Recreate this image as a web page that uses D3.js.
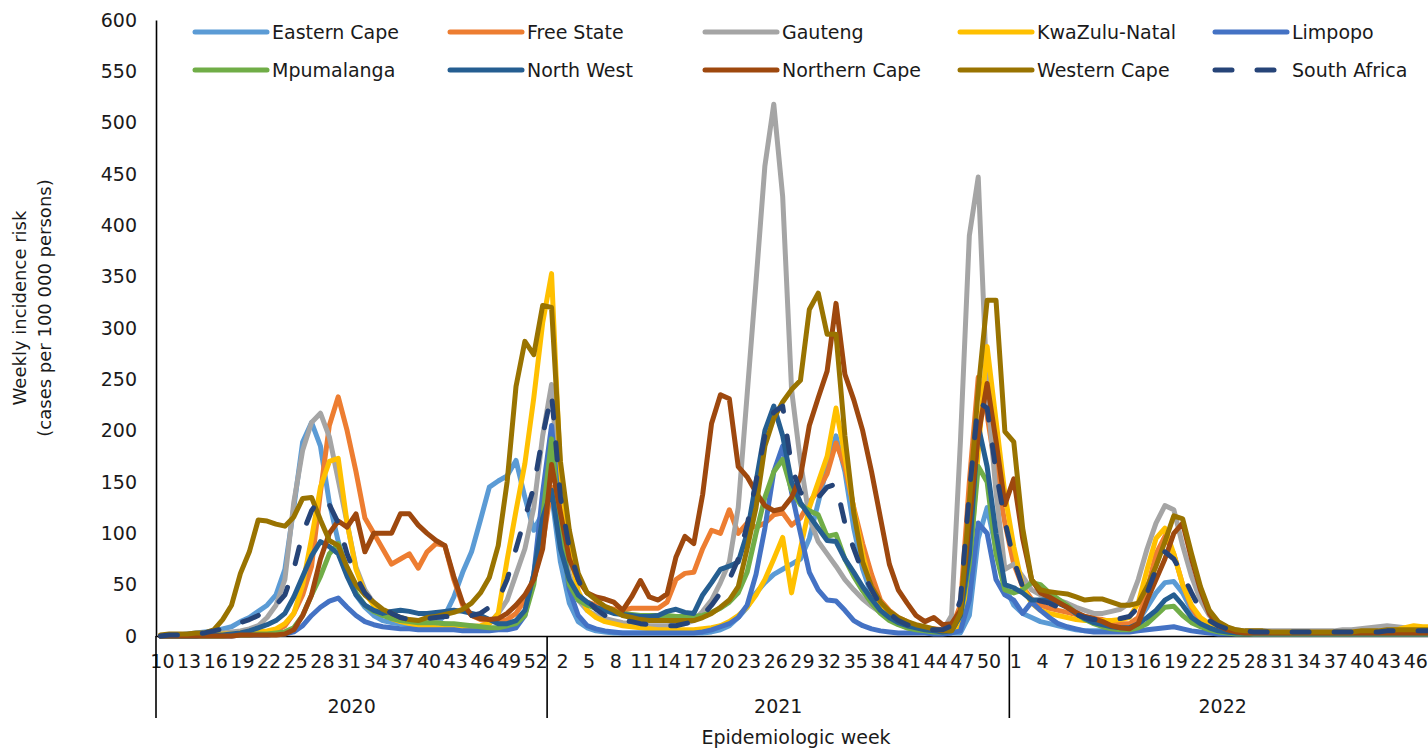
<!DOCTYPE html>
<html>
<head>
<meta charset="utf-8">
<script src="https://cdn.jsdelivr.net/npm/d3@7"></script>
<style>
  body { margin: 0; background: #fff; }
  svg { display: block; }
  text { font-family: "DejaVu Sans", sans-serif; fill: #1a1a1a; }
</style>
</head>
<body>
<svg id="chart" width="1428" height="748"></svg>
<script>
// year, first week, last week
const yearSpans = [[2020, 10, 53], [2021, 1, 52], [2022, 1, 48]];
const yTicks = [0, 50, 100, 150, 200, 250, 300, 350, 400, 450, 500, 550, 600];

const provinces = ["Eastern Cape", "Free State", "Gauteng", "KwaZulu-Natal", "Limpopo",
  "Mpumalanga", "North West", "Northern Cape", "Western Cape", "South Africa"];
const colors = ["#5b9bd5", "#ed7d31", "#a5a5a5", "#ffc000", "#4472c4",
  "#70ad47", "#255e91", "#9e480e", "#997300", "#264478"];

// weekly incidence risk, 2020 wk10 .. 2022 wk48
const easternCape = [
  0,0,1,2,3,4,5,7,9,14, 18,24,30,40,65,125,189,208,185,130, 92,62,40,28,20,15,13,12,11,10, 10,12,20,38,62,82,113,145,151,156, 171,135,103,120,
  138,72,32,14,8,5,4,3,3,3, 3,3,3,3,3,3,3,3,4,6, 10,18,28,42,52,60,65,70,75,95, 130,165,195,160,105,65,40,27,18,13, 10,7,5,4,3,3,3,20,95,125, 85,48,
  30,22,18,14,12,10,8,6,5,5, 5,5,6,8,15,28,42,52,53,42, 25,15,10,6,4,3,3,2,2,2, 2,2,2,2,2,2,2,2,2,2, 2,2,2,2,2,2,2,2];
const freeState = [
  0,0,0,0,0,0,0,0,0,1, 1,2,3,5,10,22,40,68,140,205, 233,200,160,115,100,85,70,75,80,66, 82,90,88,55,30,20,16,14,14,16, 22,35,55,90,
  145,95,55,38,33,30,28,26,25,27, 27,27,27,33,55,61,62,85,103,100, 123,100,110,106,110,118,120,108,115,130, 142,158,188,165,125,90,60,35,25,18, 14,10,8,7,6,8,30,150,252,215, 160,110,
  70,48,36,30,27,25,23,21,19,17, 16,14,12,12,18,45,80,97,80,50, 28,15,9,6,5,4,3,3,3,3, 3,3,3,3,3,3,3,3,3,3, 3,3,3,3,3,3,3,3];
const gauteng = [
  0,0,0,1,1,1,2,3,4,5, 7,10,18,30,55,130,181,208,217,194, 152,110,67,45,32,25,18,15,14,13, 13,13,12,11,10,10,9,12,22,35, 60,85,125,195,
  245,120,60,35,25,20,17,15,13,12, 11,10,10,10,11,12,15,24,35,52, 72,125,235,345,458,518,428,240,170,115, 92,80,68,55,45,36,29,23,18,14, 11,9,7,6,5,20,190,390,447,240, 140,65,
  70,58,45,40,38,35,32,28,25,22, 22,24,26,32,55,85,110,127,123,88, 58,35,20,12,8,6,5,5,5,5, 5,5,5,5,5,5,5,6,6,7, 8,9,10,9,8,8,8,8];
const kwazuluNatal = [
  0,0,0,0,1,1,1,2,2,3, 3,4,5,7,12,22,50,95,145,170, 173,110,65,42,30,22,17,14,12,10, 9,8,8,8,8,9,10,12,22,74, 122,168,232,305,
  353,158,84,44,25,18,14,12,10,9, 8,7,6,6,6,6,6,7,8,10, 14,20,28,40,55,75,96,42,85,125, 150,175,222,175,123,80,45,28,18,12, 8,6,5,4,3,4,10,60,180,282, 210,138,
  87,48,32,25,22,20,18,16,15,15, 15,15,16,18,32,65,95,105,80,50, 30,18,12,8,6,4,3,3,3,3, 3,3,3,3,3,3,3,3,3,3, 3,4,5,6,8,10,9,9];
const limpopo = [
  0,0,0,0,0,0,0,0,0,1, 1,1,1,2,2,4,10,20,28,34, 37,28,20,14,11,9,8,7,7,6, 6,6,6,6,5,5,5,5,6,6, 8,20,60,140,
  205,110,45,20,10,7,5,4,3,3, 3,3,3,3,3,3,3,4,6,9, 12,18,30,60,105,160,185,140,100,62, 45,35,34,25,15,10,7,5,4,3, 3,3,3,2,2,3,5,35,110,100, 55,40,
  35,22,33,25,18,12,9,7,5,4, 4,4,4,4,5,6,7,8,9,7, 5,4,3,2,2,2,2,2,2,2, 2,2,2,2,2,2,2,2,2,2, 2,2,2,2,2,2,2,2];
const mpumalanga = [
  0,0,0,0,0,0,0,0,1,1, 1,2,2,3,4,8,20,40,58,80, 90,65,42,30,24,20,17,15,14,13, 13,13,12,12,11,10,9,8,8,10, 12,20,50,115,
  192,100,50,35,30,27,25,23,22,21, 20,20,20,20,19,19,19,20,23,27, 33,42,62,100,135,160,172,142,128,122, 118,97,99,75,58,44,32,22,15,11, 8,6,5,4,4,5,20,70,165,150, 80,45,
  42,45,52,50,42,36,30,22,16,12, 9,7,6,6,8,12,20,28,29,20, 13,9,6,4,3,2,2,2,2,2, 2,2,2,2,2,2,2,2,2,2, 2,2,2,2,2,2,2,2];
const northWest = [
  0,0,0,0,0,1,1,1,2,3, 5,8,11,15,22,38,58,78,92,87, 80,58,40,30,25,22,24,25,24,22, 22,23,24,25,24,22,20,16,12,12, 15,25,60,115,
  142,85,55,40,33,28,25,22,21,20, 19,19,20,24,26,23,22,40,52,65, 68,72,100,150,200,224,195,150,130,117, 105,93,92,75,62,48,36,25,18,13, 10,8,6,5,4,5,20,80,205,165, 100,50,
  47,42,35,35,35,32,28,22,17,13, 11,9,8,8,12,18,25,35,40,30, 18,12,8,5,4,3,3,3,3,3, 3,3,3,3,3,3,3,3,3,3, 3,3,3,3,3,3,3,3];
const northernCape = [
  0,0,0,0,0,0,0,0,0,1, 1,1,1,1,2,6,20,40,75,100, 112,106,119,82,100,100,100,119,119,108, 100,93,88,58,32,20,17,16,17,22, 30,40,55,85,
  167,120,75,55,42,38,36,33,25,38, 54,38,35,41,77,97,90,138,207,235, 231,165,155,140,127,122,124,135,155,205, 232,258,324,255,230,200,160,115,70,45, 32,20,14,18,11,12,25,110,195,246, 190,128,
  153,95,55,42,38,33,28,23,19,17, 14,10,8,7,12,35,55,75,100,110, 75,45,22,10,6,4,3,3,3,3, 3,3,3,3,3,3,3,3,3,3, 3,3,3,3,3,3,3,3];
const westernCape = [
  1,2,2,2,3,3,6,16,30,61, 82,113,112,109,107,116,134,135,113,93, 88,67,50,40,33,26,22,18,16,15, 18,19,21,23,26,32,42,57,88,150, 243,287,274,322,
  320,170,103,61,42,35,29,25,20,18, 16,15,15,15,15,15,15,18,22,28, 35,48,85,125,185,212,228,240,249,318, 334,294,294,195,120,72,48,33,24,18, 14,11,9,7,5,5,22,130,240,327, 327,199,
  189,105,55,45,43,42,41,38,35,36, 36,33,30,30,32,48,68,92,117,114, 80,48,25,14,9,6,5,5,5,4, 4,4,4,4,4,4,4,4,4,5, 5,5,6,6,6,6,6,6];
const southAfrica = [
  0,1,1,1,2,3,5,7,10,13, 16,20,25,30,40,65,100,122,135,128, 110,80,58,42,33,28,22,18,16,16, 17,18,19,19,20,20,22,28,35,55, 85,115,145,195,
  236,135,85,55,35,26,20,17,15,14, 12,11,10,10,10,12,14,20,30,42, 55,75,108,150,195,218,224,165,140,130, 135,145,148,110,85,62,45,30,22,15, 11,8,7,6,6,10,35,140,228,222, 160,112,
  74,48,37,34,32,28,25,21,18,16, 16,16,17,19,28,42,65,82,75,60, 42,25,15,10,7,5,5,4,4,4, 4,4,4,4,4,4,4,4,4,4, 4,4,5,5,5,5,5,5];

const seriesValues = [easternCape, freeState, gauteng, kwazuluNatal, limpopo,
  mpumalanga, northWest, northernCape, westernCape, southAfrica];

// categories: one per epi week
const categories = [];
yearSpans.forEach(([yr, w0, w1]) => {
  for (let w = w0; w <= w1; w++) categories.push({ year: yr, week: w, key: yr + "-" + w });
});

const svg = d3.select("#chart");
const left = 156, bandW = 8.889;

const x = d3.scaleBand()
  .domain(categories.map(d => d.key))
  .range([left, left + categories.length * bandW])
  .padding(0);
const y = d3.scaleLinear().domain([0, 600]).range([636, 20]);
const cx = k => x(k) + x.bandwidth() / 2;

// y axis
const yAxis = svg.append("g")
  .attr("transform", `translate(${left},0)`)
  .call(d3.axisLeft(y).tickValues(yTicks).tickSize(0).tickSizeOuter(0).tickPadding(19));
yAxis.select(".domain").attr("stroke", "#000").attr("stroke-width", 1.6);
yAxis.selectAll("text").style("font-size", "19px").attr("fill", "#1a1a1a");

// x axis: week labels every third category
const labelKeys = categories.filter((d, i) => i % 3 === 0).map(d => d.key);
const xAxis = svg.append("g")
  .attr("transform", "translate(0,636)")
  .call(d3.axisBottom(x).tickValues(labelKeys).tickSize(0).tickSizeOuter(0).tickPadding(19)
    .tickFormat(k => k.split("-")[1]));
xAxis.select(".domain").attr("stroke", "#000").attr("stroke-width", 1.6);
xAxis.selectAll("text").style("font-size", "19px").attr("fill", "#1a1a1a").attr("dx", "2");

// year groups: separators and labels
yearSpans.forEach(([yr]) => {
  const keys = categories.filter(d => d.year === yr).map(d => d.key);
  const x0 = x(keys[0]);
  const x1 = x(keys[keys.length - 1]) + x.bandwidth();
  svg.append("line")
    .attr("x1", x0).attr("x2", x0).attr("y1", 636).attr("y2", 718)
    .attr("stroke", "#000").attr("stroke-width", 1.6);
  svg.append("text")
    .attr("x", (x0 + x1) / 2).attr("y", 706)
    .attr("text-anchor", "middle").attr("dominant-baseline", "central")
    .style("font-size", "19px")
    .text(yr);
});

// axis titles
svg.append("text")
  .attr("x", 796).attr("y", 737)
  .attr("text-anchor", "middle").attr("dominant-baseline", "central")
  .style("font-size", "19px")
  .text("Epidemiologic week");

const yTitle = svg.append("text")
  .attr("transform", "translate(20,308) rotate(-90)")
  .attr("text-anchor", "middle")
  .style("font-size", "18px");
yTitle.append("tspan").attr("x", 0).attr("dy", "0.35em").text("Weekly incidence risk");
yTitle.append("tspan").attr("x", 0).attr("dy", "25").text("(cases per 100 000 persons)");

// lines
const line = d3.line()
  .x((v, i) => cx(categories[i].key))
  .y(v => y(v));

provinces.forEach((name, s) => {
  const path = svg.append("path")
    .datum(seriesValues[s])
    .attr("d", line)
    .attr("fill", "none")
    .attr("stroke", colors[s])
    .attr("stroke-width", 5)
    .attr("stroke-linejoin", "round")
    .attr("stroke-linecap", "round");
  if (name === "South Africa") path.attr("stroke-dasharray", "17,25");
});

// legend
const legendCols = [195, 450, 705, 960, 1215];
const legendRows = [32, 70];
provinces.forEach((name, s) => {
  const lx = legendCols[s % 5], ly = legendRows[Math.floor(s / 5)];
  const g = svg.append("g");
  g.append("line")
    .attr("x1", lx).attr("x2", lx + 72).attr("y1", ly).attr("y2", ly)
    .attr("stroke", colors[s]).attr("stroke-width", 5)
    .attr("stroke-linecap", "round")
    .attr("stroke-dasharray", name === "South Africa" ? "17,25" : null);
  g.append("text")
    .attr("x", lx + 77).attr("y", ly)
    .attr("dominant-baseline", "central")
    .style("font-size", "19px")
    .text(name);
});
</script>
</body>
</html>
